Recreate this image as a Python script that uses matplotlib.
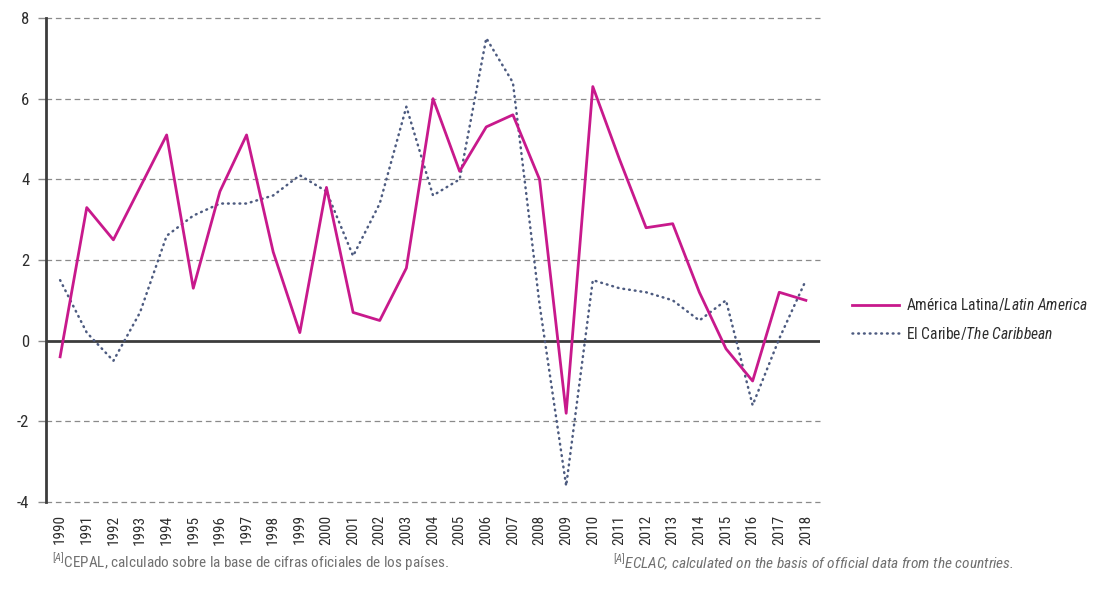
import matplotlib
matplotlib.use("Agg")
import matplotlib.pyplot as plt
from matplotlib.lines import Line2D

plt.rcParams['font.family'] = ['Roboto Condensed', 'DejaVu Sans']
plt.rcParams['mathtext.fontset'] = 'custom'
plt.rcParams['mathtext.rm'] = 'Roboto Condensed'
plt.rcParams['mathtext.it'] = 'Roboto Condensed:italic'

# datos
years = list(range(1990, 2019))
latin_america = [-0.4, 3.3, 2.5, 3.8, 5.1, 1.3, 3.7, 5.1, 2.2, 0.2,
                 3.8, 0.7, 0.5, 1.8, 6.0, 4.2, 5.3, 5.6, 4.0, -1.8,
                 6.3, 4.5, 2.8, 2.9, 1.2, -0.2, -1.0, 1.2, 1.0]
caribbean = [1.5, 0.2, -0.5, 0.7, 2.6, 3.1, 3.4, 3.4, 3.6, 4.1,
             3.7, 2.1, 3.4, 5.8, 3.6, 4.0, 7.5, 6.4, 0.9, -3.6,
             1.5, 1.3, 1.2, 1.0, 0.5, 1.0, -1.6, 0.05, 1.5]
yticks = [-4, -2, 0, 2, 4, 6, 8]

magenta = '#c8198c'
slate = '#4d5b80'
txt = '#2e2e2e'
dots = (0, (0.3, 2.0))

fig = plt.figure(figsize=(11.01, 5.93), dpi=100)
ax = fig.add_axes([46 / 1101, 1 - 502 / 593, (820 - 46) / 1101, (502 - 18) / 593])

# grid
for v in yticks:
    if v == 0:
        continue
    ax.axhline(v, color='#8a8a8a', lw=0.9, ls=(0, (4.5, 3)), zorder=1, clip_on=False)
ax.axhline(0, color='#3c3c3c', lw=2.0, zorder=2)

ax.plot(years, caribbean, color=slate, lw=1.8, ls=dots,
        dash_capstyle='round', zorder=3)
ax.plot(years, latin_america, color=magenta, lw=2.0, zorder=4)

ax.set_xlim(1989.47, 2018.53)
ax.set_ylim(-4, 8)
ax.set_yticks(yticks)
ax.set_yticklabels([str(v) for v in yticks], fontsize=12, color=txt)
ax.set_xticks(years)
ax.set_xticklabels([str(y) for y in years], rotation=90, fontsize=11, color=txt)
ax.tick_params(axis='y', length=6, width=1, color='#8a8a8a', pad=6)
ax.tick_params(axis='x', length=0, pad=9)

for s in ['top', 'right', 'bottom']:
    ax.spines[s].set_visible(False)
ax.spines['left'].set_color('#3c3c3c')
ax.spines['left'].set_linewidth(2.0)
ax.spines['left'].set_zorder(5)

# leyenda
h1 = Line2D([], [], color=magenta, lw=2.0)
h2 = Line2D([], [], color=slate, lw=1.8, ls=dots, dash_capstyle='round')
labels = ['América Latina/$\\it{Latin\\ America}$', 'El Caribe/$\\it{The\\ Caribbean}$']
leg = fig.legend([h1, h2], labels, loc='upper left', bbox_to_anchor=(852 / 1101, 1 - 296 / 593),
                 frameon=False, fontsize=11.2, handlelength=3.0, handletextpad=0.5,
                 labelspacing=0.75, borderaxespad=0, borderpad=0)
for t in leg.get_texts():
    t.set_color(txt)

# notas
fig.text(52 / 1101, 1 - 563 / 593, '$^{[A]}$CEPAL, calculado sobre la base de cifras oficiales de los países.',
         fontsize=10.9, color='#707070', va='center', ha='left')
fig.text(613 / 1101, 1 - 563 / 593, '$^{\\it{[A]}}$ECLAC, calculated on the basis of official data from the countries.',
         fontsize=11.1, color='#707070', va='center', ha='left', style='italic')

fig.savefig('out.png', dpi=100)
